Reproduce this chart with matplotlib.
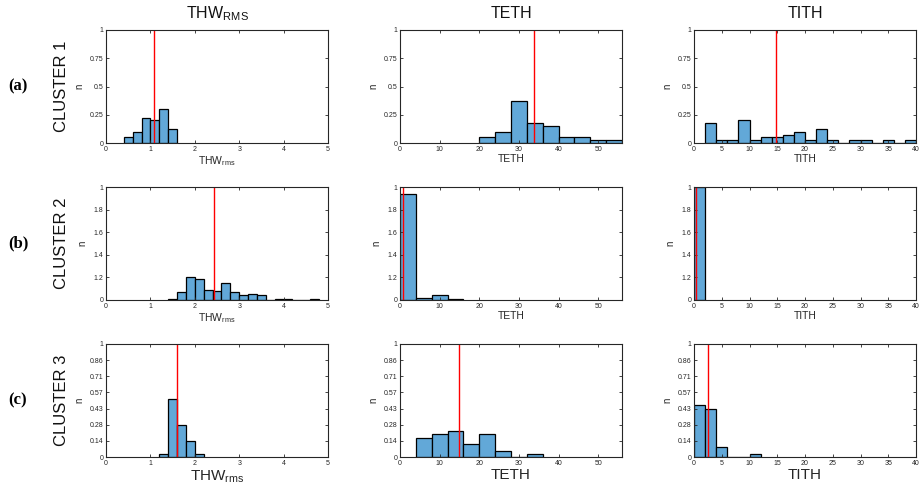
import numpy as np
import matplotlib.pyplot as plt

# ---- data: bin edges start, bin width, normalized counts, red mean line ----
# Cluster 1
c1_thw_start, c1_thw_w = 0.4, 0.2
c1_thw = [0.05, 0.10, 0.22, 0.20, 0.30, 0.125]
c1_thw_mean = 1.07
c1_teth_start, c1_teth_w = 20, 4
c1_teth = [0.05, 0.10, 0.375, 0.175, 0.15, 0.05, 0.05, 0.025, 0.025]
c1_teth_mean = 33.7
c1_tith_start, c1_tith_w = 2, 2
c1_tith = [0.175, 0.025, 0.025, 0.20, 0.025, 0.05, 0.05, 0.075, 0.10, 0.025,
           0.125, 0.025, 0.0, 0.025, 0.025, 0.0, 0.025, 0.0, 0.025]
c1_tith_mean = 14.8

# Cluster 2
c2_thw_start, c2_thw_w = 1.4, 0.2
c2_thw = [0.012, 0.071, 0.20, 0.183, 0.092, 0.08, 0.148, 0.071, 0.041, 0.053,
          0.044, 0.0, 0.006, 0.006, 0.0, 0.0, 0.006]
c2_thw_mean = 2.43
c2_teth_start, c2_teth_w = 0, 4
c2_teth = [0.938, 0.015, 0.04, 0.006]
c2_teth_mean = 0.8
c2_tith_start, c2_tith_w = 0, 2
c2_tith = [1.0]
c2_tith_mean = 0.3

# Cluster 3
c3_thw_start, c3_thw_w = 1.2, 0.2
c3_thw = [1/35, 18/35, 10/35, 5/35, 1/35]
c3_thw_mean = 1.61
c3_teth_start, c3_teth_w = 4, 4
c3_teth = [6/35, 7/35, 8/35, 4/35, 7/35, 2/35, 0.0, 1/35]
c3_teth_mean = 15.0
c3_tith_start, c3_tith_w = 0, 2
c3_tith = [16/35, 15/35, 3/35, 0.0, 0.0, 1/35]
c3_tith_mean = 2.47

col_titles = ["THW$_\\mathregular{RMS}$", "TETH", "TITH"]
col_xlabels = ["THW$_\\mathregular{rms}$", "TETH", "TITH"]
row_tags = ["(a)", "(b)", "(c)"]
row_names = ["CLUSTER 1", "CLUSTER 2", "CLUSTER 3"]
xlims = [(0, 5), (0, 56), (0, 40)]
xticks = [np.arange(0, 6, 1), np.arange(0, 60, 10), np.arange(0, 45, 5)]

yticks_rows = [
    ([0, 0.25, 0.5, 0.75, 1], ["0", "0.25", "0.5", "0.75", "1"]),
    ([0, 0.2, 0.4, 0.6, 0.8, 1], ["0", "1.2", "1.4", "1.6", "1.8", "1"]),
    ([0, 1/7, 2/7, 3/7, 4/7, 5/7, 6/7, 1],
     ["0", "0.14", "0.28", "0.43", "0.57", "0.71", "0.86", "1"]),
]

panels = [
    [(c1_thw_start, c1_thw_w, c1_thw, c1_thw_mean),
     (c1_teth_start, c1_teth_w, c1_teth, c1_teth_mean),
     (c1_tith_start, c1_tith_w, c1_tith, c1_tith_mean)],
    [(c2_thw_start, c2_thw_w, c2_thw, c2_thw_mean),
     (c2_teth_start, c2_teth_w, c2_teth, c2_teth_mean),
     (c2_tith_start, c2_tith_w, c2_tith, c2_tith_mean)],
    [(c3_thw_start, c3_thw_w, c3_thw, c3_thw_mean),
     (c3_teth_start, c3_teth_w, c3_teth, c3_teth_mean),
     (c3_tith_start, c3_tith_w, c3_tith, c3_tith_mean)],
]

plt.rcParams["font.family"] = ["Liberation Sans", "DejaVu Sans"]
plt.rcParams["mathtext.default"] = "regular"

W, H = 921, 488
fig = plt.figure(figsize=(W / 100, H / 100), dpi=100)

col_left = [106, 400, 694]
row_top = [30, 187, 344]
aw, ah = 222, 113

bar_color = "#62A8D8"
axis_color = "#262626"

for r in range(3):
    for c in range(3):
        x0 = col_left[c] / W
        y0 = (H - row_top[r] - ah) / H
        ax = fig.add_axes([x0, y0, aw / W, ah / H])
        start, w, vals, mean = panels[r][c]
        lefts = start + w * np.arange(len(vals))
        ax.bar(lefts, vals, width=w, align="edge", color=bar_color,
               edgecolor="black", linewidth=0.9)
        ax.axvline(mean, color="red", linewidth=1.0)
        ax.set_xlim(*xlims[c])
        ax.set_ylim(0, 1)
        ax.set_xticks(xticks[c])
        ax.set_xticklabels([str(v) for v in xticks[c]])
        ax.set_yticks(yticks_rows[r][0])
        ax.set_yticklabels(yticks_rows[r][1])
        ax.tick_params(direction="in", length=2.5, width=0.6, labelsize=5,
                       top=True, right=True, colors=axis_color, pad=2)
        for s in ax.spines.values():
            s.set_linewidth(0.8)
            s.set_color(axis_color)
        ax.set_ylabel("n", fontsize=7, labelpad=4, color=axis_color)
        if r < 2:
            if r == 0:
                ax.set_xlabel(col_xlabels[c], fontsize=7.5, labelpad=1,
                              color=axis_color)
            else:
                ax.set_xlabel(col_xlabels[c], fontsize=7.5, labelpad=1,
                              color=axis_color)
        else:
            ax.set_xlabel(col_xlabels[c], fontsize=11, labelpad=1,
                          color=axis_color)

# column titles
for c in range(3):
    fig.text((col_left[c] + aw / 2) / W, 1 - 14 / H, col_titles[c],
             ha="center", va="center", fontsize=11.5, color="#111111")

# row labels
for r in range(3):
    yc = 1 - (row_top[r] + ah / 2) / H
    fig.text(18 / W, yc, row_tags[r], ha="center", va="center",
             fontsize=12, fontweight="bold", family="Liberation Serif")
    fig.text(62 / W, yc, row_names[r], ha="center", va="center",
             fontsize=12, rotation=90, color="#111111")

fig.savefig("out.png", dpi=100)
plt.close(fig)
